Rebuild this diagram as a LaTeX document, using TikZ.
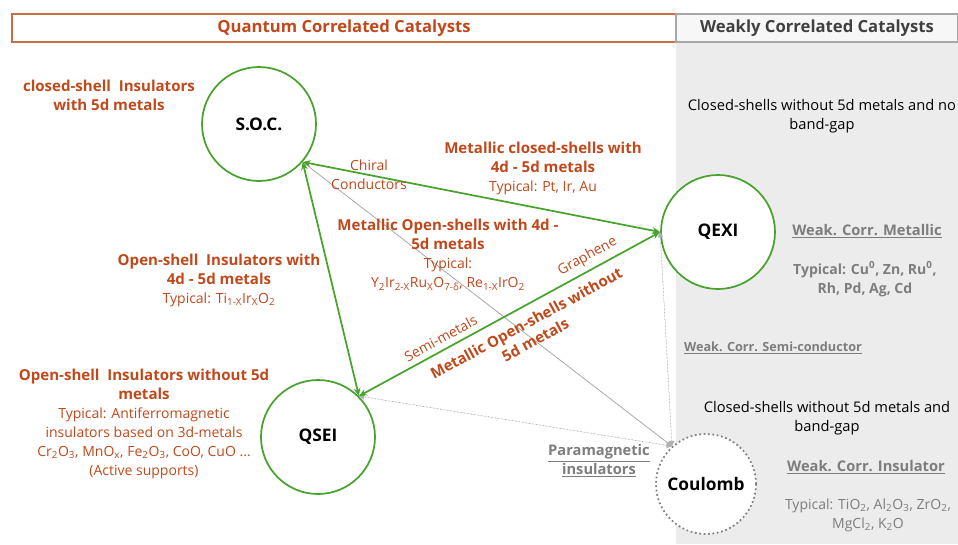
\documentclass[tikz,border=0pt]{standalone}
\usepackage{fontspec}
\setmainfont{Open Sans}
\usetikzlibrary{arrows.meta}
\definecolor{corrorange}{RGB}{192,72,26}
\definecolor{corrgreen}{RGB}{72,163,44}
\definecolor{corrgray}{RGB}{125,125,125}
\definecolor{linegray}{RGB}{175,175,175}
\definecolor{panelgray}{RGB}{236,236,236}
\newcommand{\boldline}[1]{{\bfseries\fontsize{11.3}{14.25}\selectfont #1}}
\begin{document}
\begin{tikzpicture}
[x=0.75pt,y=-0.75pt,
  circledecorate/.style={shape=circle,draw=corrgreen,line width=1.3pt,fill=white,
    minimum size=85.5pt,inner sep=0pt,font=\bfseries\fontsize{13}{15}\selectfont},
  dotcircledecorate/.style={shape=circle,draw=corrgray,line width=1.3pt,dotted,fill=white,
    minimum size=75pt,inner sep=0pt,font=\bfseries\fontsize{13}{15}\selectfont},
  greendecorate/.style={{Stealth[length=6pt,width=5pt]}-{Stealth[length=6pt,width=5pt]},
    draw=corrgreen,line width=1.3pt},
  graydecorate/.style={{Triangle[length=4pt,width=4pt]}-{Triangle[length=4pt,width=4pt]},
    draw=linegray,line width=0.6pt,fill=corrgray},
  textdecorate/.style={align=center,text=corrorange,inner sep=0pt,
    font=\fontsize{10.5}{14.25}\selectfont},
  boldtextdecorate/.style={textdecorate,font=\bfseries\fontsize{11.3}{14.25}\selectfont},
  graytextdecorate/.style={align=center,text=corrgray,inner sep=0pt,
    font=\bfseries\fontsize{11}{14.25}\selectfont},
  blacktextdecorate/.style={align=center,text=black,inner sep=0pt,
    font=\fontsize{11}{14.25}\selectfont}]
\useasboundingbox (0,0) rectangle (958,544);
%%% headers and background
\fill[panelgray] (676,42) rectangle (958,544);
\node (qhead) at (344,28) [draw=corrorange!80,line width=0.8pt,minimum width=498pt,minimum height=21pt,
  text=corrorange,font=\bfseries\fontsize{12.5}{15}\selectfont] {Quantum Correlated Catalysts};
\node (whead) at (817,28) [draw=gray!70,fill=gray!6,line width=0.8pt,minimum width=211.5pt,minimum height=21pt,
  text=black!75,font=\bfseries\fontsize{12.5}{15}\selectfont] {Weakly Correlated Catalysts};
%
%%% catalyst circles
% nodes or vertices
\node (soc) at (259,124) [circledecorate] {S.O.C.};
\node (qexi) at (718,232) [circledecorate] {QEXI};
\node (qsei) at (318,437) [circledecorate] {QSEI};
\node (coulomb) at (706,484) [dotcircledecorate] {Coulomb};
% edges or lines
\path
(coulomb.132) edge[graydecorate] (soc.-41.5)
(coulomb.132) edge[graydecorate,dotted] (qexi.180)
(coulomb.132) edge[graydecorate,dotted] (qsei.45)
(soc.-41.5) edge[greendecorate] (qexi.180)
(soc.-41.5) edge[greendecorate] (qsei.45)
(qsei.45) edge[greendecorate] node[pos=0.29,above=4pt,sloped,textdecorate] {Semi-metals}
  node[pos=0.78,above=4pt,sloped,textdecorate] {Graphene}
  node[pos=0.53,below=7pt,sloped,boldtextdecorate] {Metallic Open-shells without\\5d metals} (qexi.180);
%
%%% quantum correlated labels
\node (socnote) at (109,95) [boldtextdecorate] {closed-shell\ \ Insulators\\with 5d metals};
\node (chiral) at (369,175) [textdecorate] {Chiral\\Conductors};
\node (metclosed) at (543,168) [textdecorate] {\boldline{Metallic closed-shells with}\\\boldline{4d - 5d metals}\\Typical: Pt, Ir, Au};
\node (metopen) at (448,255) [textdecorate] {\boldline{Metallic Open-shells with 4d -}\\\boldline{5d metals}\\Typical:\\
  Y\textsubscript{2}Ir\textsubscript{2-X}Ru\textsubscript{X}O\textsubscript{7-δ}, Re\textsubscript{1-X}IrO\textsubscript{2}};
\node (openwith) at (219,280) [textdecorate] {\boldline{Open-shell\ \ Insulators with}\\\boldline{4d - 5d metals}\\
  Typical: Ti\textsubscript{1-X}Ir\textsubscript{X}O\textsubscript{2}};
\node (openwithout) at (144,424) [textdecorate] {\boldline{Open-shell\ \ Insulators without 5d}\\\boldline{metals}\\
  Typical: Antiferromagnetic\\insulators based on 3d-metals\\
  Cr\textsubscript{2}O\textsubscript{3}, MnO\textsubscript{x}, Fe\textsubscript{2}O\textsubscript{3}, CoO, CuO ...\\(Active supports)};
\node (para) at (599,461) [graytextdecorate] {\underline{Paramagnetic}\\\underline{insulators}};
%
%%% weakly correlated labels
\node (closednogap) at (822,116) [blacktextdecorate] {Closed-shells without 5d metals and no\\band-gap};
\node (wmetal) at (867,231) [graytextdecorate] {\underline{Weak. Corr. Metallic}};
\node (wmetaltyp) at (865,279) [graytextdecorate,font=\bfseries\fontsize{10.5}{14.25}\selectfont] {Typical: Cu\textsuperscript{0}, Zn, Ru\textsuperscript{0},\\Rh, Pd, Ag, Cd};
\node (wsemi) at (773,348) [graytextdecorate,font=\bfseries\fontsize{9.5}{11}\selectfont] {\underline{Weak. Corr. Semi-conductor}};
\node (closedgap) at (827,418) [blacktextdecorate] {Closed-shells without 5d metals and\\band-gap};
\node (winsul) at (866,467) [graytextdecorate] {\underline{Weak. Corr. Insulator}};
\node (winsultyp) at (868,515) [graytextdecorate,font=\fontsize{10.5}{14.25}\selectfont] {Typical: TiO\textsubscript{2}, Al\textsubscript{2}O\textsubscript{3}, ZrO\textsubscript{2},\\
  MgCl\textsubscript{2}, K\textsubscript{2}O};
\end{tikzpicture}
\end{document}
